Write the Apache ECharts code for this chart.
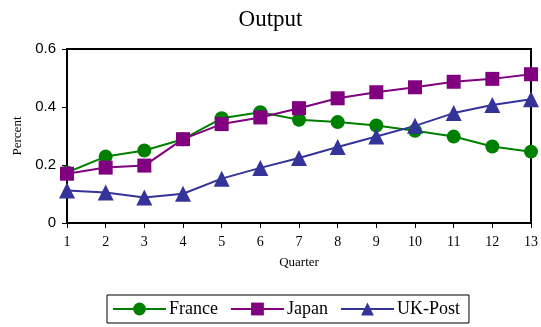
<!DOCTYPE html>
<html>
<head>
<meta charset="utf-8">
<script src="https://cdn.jsdelivr.net/npm/echarts@6/dist/echarts.min.js"></script>
<style>
  html, body { margin: 0; padding: 0; background: #fff; }
  #chart { width: 541px; height: 327px; }
</style>
</head>
<body>
<div id="chart"></div>
<script>
// Quarterly output share, percent
const quarters = [1, 2, 3, 4, 5, 6, 7, 8, 9, 10, 11, 12, 13];
const france = [0.174, 0.229, 0.250, 0.289, 0.361, 0.382, 0.356, 0.348, 0.336, 0.318, 0.298, 0.264, 0.246];
const japan  = [0.170, 0.191, 0.198, 0.289, 0.341, 0.364, 0.396, 0.430, 0.451, 0.468, 0.487, 0.497, 0.513];
const ukPost = [0.112, 0.105, 0.088, 0.101, 0.153, 0.190, 0.224, 0.262, 0.298, 0.335, 0.379, 0.407, 0.427];
const yTicks = [0, 0.2, 0.4, 0.6];

const serif = '"Liberation Serif", "DejaVu Serif", serif';
const sans = '"Liberation Sans", Arial, sans-serif';

function pairs(vals) {
  return quarters.map((q, i) => [q, vals[i]]);
}

function lineSeries(name, vals, color, symbol, size) {
  return {
    name: name,
    type: 'line',
    data: pairs(vals),
    symbol: symbol,
    symbolSize: size,
    lineStyle: { color: color, width: 2 },
    itemStyle: { color: color },
    emphasis: { disabled: true },
    animation: false
  };
}

const chart = echarts.init(document.getElementById('chart'));
chart.setOption({
  backgroundColor: '#fff',
  title: {
    text: 'Output',
    left: 'center',
    top: 3,
    textStyle: { fontFamily: serif, fontSize: 23, fontWeight: 'normal', color: '#000' }
  },
  grid: {
    left: 67, right: 8, top: 49, bottom: 104,
    show: true, borderColor: '#000', borderWidth: 2, backgroundColor: 'transparent'
  },
  xAxis: {
    type: 'value',
    min: 1, max: 13, interval: 1,
    name: 'Quarter',
    nameLocation: 'middle',
    nameGap: 33,
    nameTextStyle: { fontFamily: serif, fontSize: 13, color: '#000' },
    axisLine: { show: true, onZero: false, lineStyle: { color: '#000', width: 2 } },
    axisTick: { show: true, length: 5, inside: false, lineStyle: { color: '#000', width: 1 } },
    axisLabel: { fontFamily: serif, fontSize: 14, color: '#000', margin: 12,
      formatter: v => String(v) },
    splitLine: { show: false }
  },
  yAxis: {
    type: 'value',
    min: 0, max: 0.6, interval: 0.2,
    name: 'Percent',
    nameLocation: 'middle',
    nameGap: 43,
    nameRotate: 90,
    nameTextStyle: { fontFamily: serif, fontSize: 13, color: '#000' },
    axisLine: { show: true, lineStyle: { color: '#000', width: 2 } },
    axisTick: { show: true, length: 5, lineStyle: { color: '#000', width: 1 } },
    axisLabel: { fontFamily: sans, fontSize: 15, color: '#000', margin: 11,
      formatter: v => {
        const t = yTicks.find(x => Math.abs(x - v) < 1e-9);
        return t === 0 ? '0' : String(t);
      } },
    splitLine: { show: false }
  },
  legend: {
    data: ['France', 'Japan', 'UK-Post'],
    bottom: 4,
    left: 107,
    orient: 'horizontal',
    itemWidth: 53,
    itemHeight: 16,
    itemGap: 12,
    padding: [5, 9, 5, 5],
    borderColor: '#000',
    borderWidth: 1,
    textStyle: { fontFamily: serif, fontSize: 18, color: '#000', padding: [0, 0, 0, -2] }
  },
  series: [
    lineSeries('France', france, '#008000', 'circle', 14),
    lineSeries('Japan', japan, '#800080', 'rect', 14),
    lineSeries('UK-Post', ukPost, '#333399', 'triangle', 16)
  ]
});
</script>
</body>
</html>
